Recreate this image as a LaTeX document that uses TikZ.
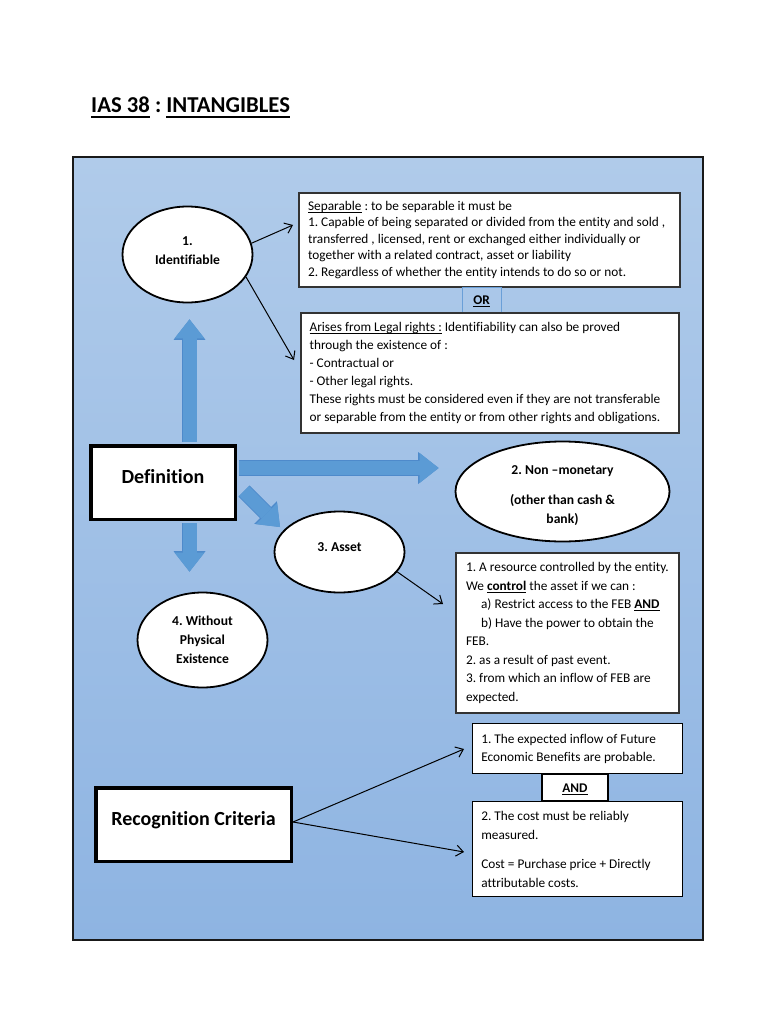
\documentclass[tikz,border=0pt]{standalone}
\usepackage{fontspec}
\setmainfont{Carlito}[Ligatures=NoCommon]
\usetikzlibrary{arrows.meta,shapes.geometric}
\definecolor{bgtop}{HTML}{B0CBEA}
\definecolor{bgbot}{HTML}{8EB4E2}
\definecolor{fatfill}{HTML}{5B9BD5}
\definecolor{fatedge}{HTML}{4E8ACB}
\definecolor{orline}{HTML}{6A9FD8}
\newcommand\ulx[3]{\setbox0=\hbox{#3}\rlap{\rule[#2]{\wd0}{#1}}\box0\relax}
\frenchspacing
\begin{document}
\frenchspacing
\begin{tikzpicture}[x=1pt,y=-1pt,
  tbox/.style={draw=black!80, line width=1.2pt, fill=white, inner sep=0pt},
  btxt/.style={anchor=west, align=left, inner sep=0pt},
  ell/.style={ellipse, draw=black, line width=1.8pt, fill=white, inner sep=0pt},
  etxt/.style={font=\fontsize{13.6}{19}\selectfont\bfseries, align=center, inner sep=0pt},
  bigbox/.style={draw=black, line width=3.5pt, fill=white, inner sep=0pt},
  bigtxt/.style={font=\fontsize{20}{24}\selectfont\bfseries, inner sep=0pt, anchor=base},
  thinarrow/.style={line width=1pt, -{Straight Barb[length=7pt,width=11pt]}},
  fat/.style={draw=fatfill, line width=14pt, -{Triangle[length=19pt,width=30pt,line width=0pt]},
    preaction={draw=fatedge, line width=15.6pt, -{Triangle[length=20.5pt,width=32pt,line width=0pt]}}},
]
\fill[white] (0,0) rectangle (768,1024);
\useasboundingbox (0,0) rectangle (768,1024);

% title
\node[anchor=base west, inner sep=0pt, font=\fontsize{22.7}{26}\selectfont\bfseries] (title) at (91,113)
  {\ulx{1.8pt}{-5pt}{IAS 38} : \ulx{1.8pt}{-5pt}{INTANGIBLES}};

% background panel
\shade[top color=bgtop, bottom color=bgbot] (73,157) rectangle (703,940);
\draw[line width=1.5pt, black!90] (73,157) rectangle (703,940);

% ellipses
\node[ell, minimum width=130pt, minimum height=96pt] (id) at (187.5,254.5) {};
\node[ell, minimum width=214pt, minimum height=100pt] (nm) at (562.5,491.5) {};
\node[ell, minimum width=130pt, minimum height=81pt] (as) at (339.5,552) {};
\node[ell, minimum width=130pt, minimum height=95pt] (np) at (202.5,640) {};

\node[etxt] (idt) at (187.5,250.5) {1.\\Identifiable};
\node[etxt] (nmt) at (562.5,496) {2. Non –monetary\\[11pt](other than cash \&\\bank)};
\node[etxt, anchor=base] (ast) at (339.5,551) {3. Asset};
\node[etxt] (npt) at (202.5,640) {4. Without\\Physical\\Existence};

% text boxes
\node[tbox, minimum width=381pt, minimum height=94pt] (sep) at (489.5,240) {};
\node[btxt, font=\fontsize{13.3}{16.5}\selectfont] (sept) at ([xshift=9.5pt]sep.west)
  {\ulx{0.7pt}{-2pt}{Separable} : to be separable it must be\\
   1. Capable of being separated or divided from the entity and sold ,\\
   transferred , licensed, rent or exchanged either individually or\\
   together with a related contract, asset or liability\\
   2. Regardless of whether the entity intends to do so or not.};

\node[draw=orline, line width=0.8pt, minimum width=39pt, minimum height=26pt, inner sep=0pt] (orb) at (481.5,300) {};
\node[anchor=base, inner sep=0pt, font=\fontsize{13.3}{16}\selectfont\bfseries] (ort) at (481.5,304) {\ulx{1.1pt}{-2.6pt}{OR}};

\node[tbox, minimum width=378pt, minimum height=120pt] (leg) at (490,373) {};
\node[btxt, font=\fontsize{13.3}{18}\selectfont] (legt) at ([xshift=9pt]leg.west)
  {\ulx{0.7pt}{-2pt}{Arises from Legal rights :} Identifiability can also be proved\\
   through the existence of :\\
   - Contractual or\\
   - Other legal rights.\\
   These rights must be considered even if they are not transferable\\
   or separable from the entity or from other rights and obligations.};

\node[tbox, minimum width=223pt, minimum height=160pt] (ab) at (567.5,633) {};
\node[btxt, font=\fontsize{13.3}{18.5}\selectfont] (abt) at ([xshift=10.5pt]ab.west)
  {1. A resource controlled by the entity.\\
   We \ulx{1pt}{-2.5pt}{\textbf{control}} the asset if we can :\\
   \hspace*{15pt}a) Restrict access to the FEB \ulx{1pt}{-2.5pt}{\textbf{AND}}\\
   \hspace*{15pt}b) Have the power to obtain the\\
   FEB.\\
   2. as a result of past event.\\
   3. from which an inflow of FEB are\\
   expected.};

\node[tbox, draw=black, line width=1.8pt, minimum width=210pt, minimum height=50pt] (b1) at (577.5,748.5) {};
\node[btxt, font=\fontsize{13.3}{18}\selectfont] (b1t) at ([xshift=9.5pt]b1.west)
  {1. The expected inflow of Future\\
   Economic Benefits are probable.};

\node[tbox, draw=black, line width=1.2pt, minimum width=66pt, minimum height=27pt] (andb) at (575,787.5) {};
\node[anchor=base, inner sep=0pt, font=\fontsize{13.3}{16}\selectfont\bfseries] (andt) at (575,792) {\ulx{1.1pt}{-2.6pt}{AND}};

\node[tbox, draw=black, line width=1.8pt, minimum width=210pt, minimum height=95pt] (b2) at (577.5,849) {};
\node[btxt, font=\fontsize{13.3}{19}\selectfont] (b2t) at ([xshift=9.5pt]b2.west)
  {2. The cost must be reliably\\
   measured.\\[10pt]
   Cost = Purchase price + Directly\\
   attributable costs.};

% big boxes
\node[bigbox, minimum width=144.5pt, minimum height=73.5pt] (def) at (163,482.5) {};
\node[bigtxt] (deft) at (163,483) {Definition};
\node[bigbox, minimum width=195.5pt, minimum height=73.5pt] (rc) at (193.5,824.5) {};
\node[bigtxt] (rct) at (193.5,825) {Recognition Criteria};

% fat arrows
\coordinate (ax) at (189.5,0);
\coordinate (dtip) at (280,527);
\draw[fat, shorten <=2pt, shorten >=16pt] (def.north -| ax) -- (id.south -| ax);
\draw[fat, shorten <=2pt, shorten >=20pt] (def.south -| ax) -- (np.north -| ax);
\draw[fat, shorten <=2pt, shorten >=16pt] ([yshift=14.5pt]def.east) -- ([yshift=23.5pt]nm.west);
\draw[fat] ([xshift=7pt,yshift=-8.5pt]def.east) -- (dtip);

% thin arrows
\coordinate (t1) at (293,225);
\coordinate (t2) at (294,360);
\coordinate (t3) at (443,604);
\coordinate (t4) at (464,749);
\coordinate (t5) at (464,852);
\draw[thinarrow] (id.10) -- (t1);
\draw[thinarrow] (id.-21) -- (t2);
\draw[thinarrow] (as.-19) -- (t3);
\draw[thinarrow] ([yshift=2.5pt]rc.east) -- (t4);
\draw[thinarrow] ([yshift=2.5pt]rc.east) -- (t5);
\end{tikzpicture}
\end{document}
